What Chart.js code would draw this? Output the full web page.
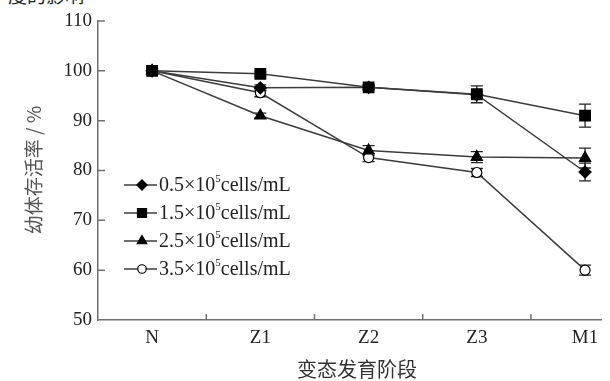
<!DOCTYPE html>
<html lang="zh">

<head>
    <meta charset="UTF-8">
    <title>幼体存活率</title>
    <script src="https://cdn.jsdelivr.net/npm/chart.js"></script>
    <style>
        body { margin: 0; background: #fff; overflow: hidden; }
        .caixa { position: relative; width: 610px; height: 381px; }
        .textoTopo {
            position: absolute; left: 8px; top: -19px; margin: 0;
            font: 19px 'Noto Sans CJK SC'; color: #222;
        }
        canvas { position: absolute; left: 0; top: 0; }
    </style>
</head>

<body>
    <div class="caixa">
        <p class="textoTopo">度的影响</p>
        <canvas id="grafico" width="610" height="381"></canvas>
    </div>

    <script>
        // dados
        const estagios = ['N', 'Z1', 'Z2', 'Z3', 'M1'];
        const nomesSeries = ['0.5', '1.5', '2.5', '3.5'];
        const serie05 = [100, 96.6, 96.7, 95.2, 79.7];
        const serie15 = [100, 99.4, 96.7, 95.3, 91.0];
        const serie25 = [100, 91.0, 84.0, 82.7, 82.5];
        const serie35 = [100, 95.6, 82.6, 79.6, 60.0];
        const erro05 = [0.5, 0.6, 0.5, 0.6, 1.8];
        const erro15 = [0.4, 0.4, 0.4, 1.7, 2.3];
        const erro25 = [0.4, 0.5, 1.0, 1.1, 2.0];
        const erro35 = [0.5, 0.8, 0.8, 0.8, 1.0];
        const ticksY = [50, 60, 70, 80, 90, 100, 110];

        const corLinha = '#3c3c3c';
        const corEixo = '#707070';
        const fonteNum = "'Liberation Serif', 'Times New Roman', serif";
        const fonteCJK = "'Noto Sans CJK SC', sans-serif";

        function pontos(valores) {
            return valores.map(function (v, i) { return { x: i, y: v }; });
        }

        const estilos = [
            { pointStyle: 'rectRot', radius: 6, fill: '#000', order: 1 },
            { pointStyle: 'rect', radius: 7.5, fill: '#000', order: 0 },
            { pointStyle: 'triangle', radius: 6.5, fill: '#000', order: 2 },
            { pointStyle: 'circle', radius: 5, fill: '#fff', order: 3 }
        ];
        const valores = [serie05, serie15, serie25, serie35];
        const erros = [erro05, erro15, erro25, erro35];

        const datasets = valores.map(function (v, i) {
            return {
                label: nomesSeries[i] + '×10⁵cells/mL',
                data: pontos(v),
                borderColor: corLinha,
                borderWidth: 1.5,
                pointStyle: estilos[i].pointStyle,
                pointRadius: estilos[i].radius,
                pointBackgroundColor: estilos[i].fill,
                pointBorderColor: '#000',
                pointBorderWidth: 1.2,
                order: estilos[i].order,
                tension: 0,
                fill: false,
                clip: false
            };
        });

        // barras de erro e marcas internas dos eixos
        const pluginExtras = {
            id: 'extras',
            beforeDatasetsDraw: function (chart) {
                const ctx = chart.ctx;
                const y = chart.scales.y;
                const x = chart.scales.x;
                ctx.save();
                ctx.strokeStyle = '#222';
                ctx.lineWidth = 1.3;
                valores.forEach(function (serie, s) {
                    serie.forEach(function (v, i) {
                        const px = x.getPixelForValue(i);
                        const y1 = y.getPixelForValue(v + erros[s][i]);
                        const y2 = y.getPixelForValue(v - erros[s][i]);
                        ctx.beginPath();
                        ctx.moveTo(px, y1); ctx.lineTo(px, y2);
                        ctx.moveTo(px - 6, y1); ctx.lineTo(px + 6, y1);
                        ctx.moveTo(px - 6, y2); ctx.lineTo(px + 6, y2);
                        ctx.stroke();
                    });
                });
                ctx.restore();
            },
            afterDraw: function (chart) {
                const ctx = chart.ctx;
                const y = chart.scales.y;
                const x = chart.scales.x;
                const area = chart.chartArea;
                ctx.save();
                ctx.strokeStyle = corEixo;
                ctx.lineWidth = 1.5;
                ctx.beginPath();
                ticksY.forEach(function (t) {
                    if (t === 50) return;
                    const py = y.getPixelForValue(t);
                    ctx.moveTo(area.left, py); ctx.lineTo(area.left + 7, py);
                });
                for (let i = 0; i < estagios.length - 1; i++) {
                    const px = x.getPixelForValue(i + 0.5);
                    ctx.moveTo(px, area.bottom); ctx.lineTo(px, area.bottom - 6);
                }
                ctx.stroke();

                // títulos dos eixos
                ctx.fillStyle = '#333';
                ctx.font = '20px ' + fonteCJK;
                ctx.textAlign = 'center';
                ctx.textBaseline = 'middle';
                ctx.fillText('变态发育阶段', 357, 369);
                ctx.save();
                ctx.translate(34, 170);
                ctx.rotate(-Math.PI / 2);
                ctx.fillStyle = '#555';
                ctx.font = '19px ' + fonteCJK;
                ctx.fillText('幼体存活率 / %', 0, 0);
                ctx.restore();

                // legenda
                const legX = 124, legY = 185, passo = 28;
                datasets.forEach(function (d, i) {
                    const ly = legY + i * passo;
                    ctx.strokeStyle = corLinha;
                    ctx.lineWidth = 1.5;
                    ctx.beginPath();
                    ctx.moveTo(legX, ly); ctx.lineTo(legX + 33, ly);
                    ctx.stroke();
                    ctx.fillStyle = estilos[i].fill;
                    ctx.strokeStyle = '#000';
                    ctx.lineWidth = 1.2;
                    Chart.helpers.drawPoint(ctx, {
                        pointStyle: estilos[i].pointStyle,
                        radius: estilos[i].radius * 0.85,
                        rotation: 0,
                        borderWidth: 1.2
                    }, legX + 18, ly);
                    ctx.fillStyle = '#222';
                    ctx.textAlign = 'left';
                    ctx.textBaseline = 'middle';
                    ctx.font = '20px ' + fonteNum;
                    let tx = 159;
                    const parte1 = nomesSeries[i] + '×10';
                    ctx.fillText(parte1, tx, ly + 1);
                    tx += ctx.measureText(parte1).width;
                    ctx.font = '11px ' + fonteNum;
                    ctx.fillText('5', tx, ly - 6);
                    tx += ctx.measureText('5').width;
                    ctx.font = '20px ' + fonteNum;
                    ctx.fillText('cells/mL', tx, ly + 1);
                });
                ctx.restore();
            }
        };

        const ctx = document.getElementById('grafico').getContext('2d');
        new Chart(ctx, {
            type: 'line',
            data: { datasets: datasets },
            options: {
                responsive: false,
                animation: false,
                layout: { padding: { top: 21, right: 0, left: 0, bottom: 0 } },
                plugins: { legend: { display: false }, tooltip: { enabled: false } },
                scales: {
                    x: {
                        type: 'linear',
                        min: -0.5,
                        max: 4.15,
                        afterFit: function (s) { s.height = 61; },
                        afterBuildTicks: function (s) {
                            s.ticks = estagios.map(function (e, i) { return { value: i }; });
                        },
                        grid: { display: false, drawTicks: false },
                        border: { display: true, color: corEixo, width: 1.5 },
                        ticks: {
                            padding: 7,
                            color: '#222',
                            font: { family: fonteNum, size: 19 },
                            maxRotation: 0,
                            autoSkip: false,
                            callback: function (v) { return estagios[v]; }
                        }
                    },
                    y: {
                        min: 50,
                        max: 110,
                        afterFit: function (s) { s.width = 98; },
                        afterBuildTicks: function (s) {
                            s.ticks = ticksY.map(function (t) { return { value: t }; });
                        },
                        grid: { display: false, drawTicks: false },
                        border: { display: true, color: corEixo, width: 1.5 },
                        ticks: {
                            padding: 6,
                            color: '#222',
                            font: { family: fonteNum, size: 19 }
                        }
                    }
                }
            },
            plugins: [pluginExtras]
        });
    </script>
</body>

</html>
